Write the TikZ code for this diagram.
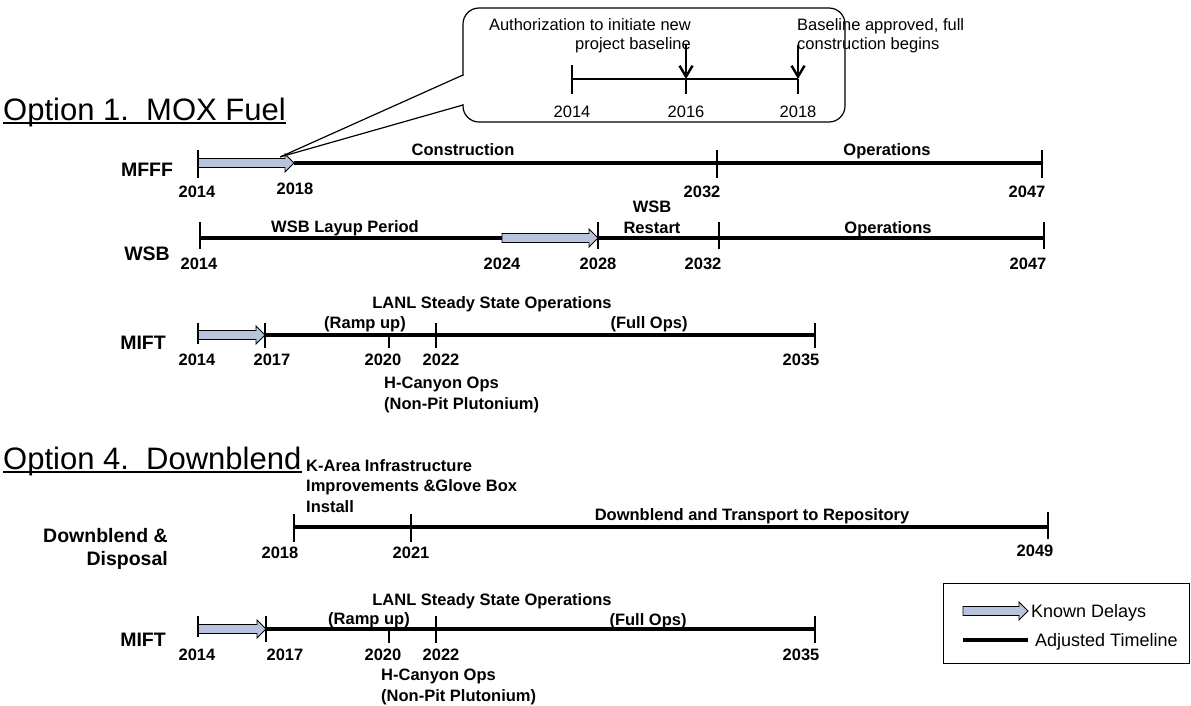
\documentclass[tikz,border=0pt]{standalone}
\usepackage{fontspec}
\setmainfont{Liberation Sans}
\usetikzlibrary{calc,arrows.meta}
\definecolor{delayblue}{RGB}{184,196,221}
\newcommand\delayarrow[2]{%
  \draw[delay] ($(#1)+(0,4.5)$) -- ($(#2)+(-9,4.5)$) -- ($(#2)+(-9,9)$) -- (#2)
    -- ($(#2)+(-9,-9)$) -- ($(#2)+(-9,-4.5)$) -- ($(#1)+(0,-4.5)$) -- cycle;}
\begin{document}
\begin{tikzpicture}[x=1pt,y=-1pt,
  lbl/.style={font=\bfseries\fontsize{16.5}{20}\selectfont, inner sep=0pt, text height=11.8pt, text depth=0pt},
  mlbl/.style={font=\bfseries\fontsize{16.5}{20.5}\selectfont, inner sep=0pt},
  rowname/.style={font=\bfseries\fontsize{19.5}{23}\selectfont, inner sep=0pt, text height=14pt, text depth=0pt},
  rowname2/.style={font=\bfseries\fontsize{19.5}{23}\selectfont, inner sep=0pt},
  reg/.style={font=\fontsize{16.5}{19}\selectfont, inner sep=0pt, text height=11.8pt, text depth=0pt},
  mreg/.style={font=\fontsize{16.5}{19}\selectfont, inner sep=0pt},
  legtext/.style={font=\fontsize{18}{21}\selectfont, inner sep=0pt, text height=12.9pt, text depth=0pt},
  title/.style={font=\fontsize{31}{37}\selectfont, inner sep=0pt},
  uline/.style={line width=1.8pt},
  tl/.style={line width=4.6pt},
  tick/.style={line width=1.3pt},
  delay/.style={draw=black, line width=0.9pt, fill=delayblue, line join=miter},
  thin/.style={line width=1.2pt},
  dnarrow/.style={line width=1.5pt, -{Straight Barb[length=11pt,width=13pt,line width=2.4pt]}}
]
\useasboundingbox (0,0) rectangle (1191,705);

% ---------- titles ----------
\node[title, anchor=base west] (opt1) at (3,120) {Option 1.\ \ MOX Fuel};
\draw[uline] ([yshift=-3pt]opt1.base west) -- ([yshift=-3pt]opt1.base east);
\node[title, anchor=base west] (opt4) at (3,469) {Option 4.\ \ Downblend};
\draw[uline] ([yshift=-3pt]opt4.base west) -- ([yshift=-3pt]opt4.base east);

% ---------- MFFF ----------
\coordinate (m14) at (198,163);
\coordinate (m18) at (294,163);
\coordinate (m32) at (717,163);
\coordinate (m47) at (1042,163);
\draw[tl] (m18) -- (m47);
\delayarrow{m14}{m18}
\draw[tick] (198,150) -- (198,178);
\draw[tick] (717,150) -- (717,178);
\draw[tick] (1042,150) -- (1042,178);
\node[rowname] (mfff) at (147,169) {MFFF};
\node[lbl] (mC) at (463,150) {Construction};
\node[lbl] (mO) at (887,150) {Operations};
\node[lbl] (my14) at (197,192) {2014};
\node[lbl] (my18) at (295,189) {2018};
\node[lbl] (my32) at (702,192) {2032};
\node[lbl] (my47) at (1027,192) {2047};

% ---------- callout ----------
\node[draw, thin, rounded corners=16pt, minimum width=382pt, minimum height=114pt, inner sep=0pt] (co) at (654,65) {};
\fill[white] (461,76) rectangle (465,104);
\coordinate (pa) at (463,75);
\coordinate (pb) at (463,105);
\coordinate (ptip) at (280,157);
\draw[thin, line join=miter] (pa) -- (ptip) -- (pb);
\coordinate (c14) at (572,79);
\coordinate (c16) at (686,79);
\coordinate (c18) at (798,79);
\draw[thin] (c14) -- (c18);
\draw[thin] (572,65) -- (572,94);
\draw[thin] (c16) -- (686,94);
\draw[thin] (c18) -- (798,94);
\coordinate (a16) at (686,45);
\coordinate (a18) at (798,45);
\draw[dnarrow] (a16) -- (c16);
\draw[dnarrow] (a18) -- (c18);
\node[mreg, anchor=north east, align=right] (auth) at (691,18) {Authorization to initiate new\\project baseline};
\node[mreg, anchor=north west, align=left] (base) at (797,18) {Baseline approved, full\\construction begins};
\node[reg] (cy14) at (572,112) {2014};
\node[reg] (cy16) at (686,112) {2016};
\node[reg] (cy18) at (798,112) {2018};

% ---------- WSB ----------
\coordinate (w14) at (200,238);
\coordinate (w24) at (502,238);
\coordinate (w28) at (598,238);
\coordinate (w32) at (719,238);
\coordinate (w47) at (1044,238);
\draw[tl] (w14) -- (w24);
\draw[tl] (w28) -- (w47);
\delayarrow{w24}{w28}
\draw[tick] (200,222) -- (200,249);
\draw[tick] (598,222) -- (598,249);
\draw[tick] (719,222) -- (719,249);
\draw[tick] (1044,222) -- (1044,249);
\node[rowname] (wsb) at (147,253) {WSB};
\node[lbl] (wL) at (345,227) {WSB Layup Period};
\node[mlbl, anchor=north, align=center] (wR) at (652,201) {WSB\\Restart};
\node[lbl] (wO) at (888,228) {Operations};
\node[lbl] (wy14) at (199,264) {2014};
\node[lbl] (wy24) at (502,264) {2024};
\node[lbl] (wy28) at (598,264) {2028};
\node[lbl] (wy32) at (703,264) {2032};
\node[lbl] (wy47) at (1028,264) {2047};

% ---------- MIFT (option 1) ----------
\coordinate (f14) at (198,335);
\coordinate (f17) at (265,335);
\coordinate (f20) at (389,335);
\coordinate (f22) at (436,335);
\coordinate (f35) at (815,335);
\draw[tl] (f17) -- (f35);
\delayarrow{f14}{f17}
\draw[tick] (198,323) -- (198,344);
\draw[tick] (265,323) -- (265,348);
\draw[tick] (f20) -- (389,348);
\draw[tick] (436,323) -- (436,348);
\draw[tick] (815,323) -- (815,348);
\node[rowname] (mift1) at (143,342) {MIFT};
\node[lbl] (fL) at (492,303) {LANL Steady State Operations};
\node[lbl] (fR) at (365,323) {(Ramp up)};
\node[lbl] (fF) at (649,323) {(Full Ops)};
\node[lbl] (fy14) at (197,360) {2014};
\node[lbl] (fy17) at (272,360) {2017};
\node[lbl] (fy20) at (383,360) {2020};
\node[lbl] (fy22) at (441,360) {2022};
\node[lbl] (fy35) at (801,360) {2035};
\node[mlbl, anchor=north west, align=left] (fH) at (384,377) {H-Canyon Ops\\(Non-Pit Plutonium)};

% ---------- Downblend ----------
\coordinate (d18) at (294,527);
\coordinate (d21) at (411,527);
\coordinate (d49) at (1048,527);
\draw[tl] (d18) -- (d49);
\draw[tick] (294,514) -- (294,542);
\draw[tick] (411,514) -- (411,542);
\draw[tick] (1048,512) -- (1048,539);
\node[rowname2, anchor=north east, align=right] (dd) at (168,528) {Downblend \&\\Disposal};
\node[mlbl, anchor=north west, align=left] (dK) at (306,459) {K-Area Infrastructure\\Improvements \&Glove Box\\Install};
\node[lbl] (dT) at (752,515) {Downblend and Transport to Repository};
\node[lbl] (dy18) at (280,553) {2018};
\node[lbl] (dy21) at (411,553) {2021};
\node[lbl] (dy49) at (1035,551) {2049};

% ---------- MIFT (option 4) ----------
\coordinate (g14) at (198,629);
\coordinate (g17) at (266,629);
\coordinate (g20) at (389,629);
\coordinate (g22) at (436,629);
\coordinate (g35) at (815,629);
\draw[tl] (g17) -- (g35);
\delayarrow{g14}{g17}
\draw[tick] (198,616) -- (198,637);
\draw[tick] (266,616) -- (266,642);
\draw[tick] (g20) -- (389,643);
\draw[tick] (436,616) -- (436,643);
\draw[tick] (815,616) -- (815,643);
\node[rowname] (mift2) at (143,639) {MIFT};
\node[lbl] (gL) at (492,600) {LANL Steady State Operations};
\node[lbl] (gR) at (369,619) {(Ramp up)};
\node[lbl] (gF) at (648,620) {(Full Ops)};
\node[lbl] (gy14) at (197,655) {2014};
\node[lbl] (gy17) at (285,655) {2017};
\node[lbl] (gy20) at (383,655) {2020};
\node[lbl] (gy22) at (441,655) {2022};
\node[lbl] (gy35) at (801,655) {2035};
\node[mlbl, anchor=north west, align=left] (gH) at (381,669) {H-Canyon Ops\\(Non-Pit Plutonium)};

% ---------- legend ----------
\node[draw, line width=1pt, minimum width=246pt, minimum height=80pt, inner sep=0pt] (leg) at (1066,623) {};
\coordinate (l1a) at (963,611);
\coordinate (l1b) at (1028,611);
\coordinate (l2a) at (963,640);
\coordinate (l2b) at (1028,640);
\delayarrow{l1a}{l1b}
\draw[tl] (l2a) -- (l2b);
\node[legtext, anchor=west] (lk) at (1031,611) {Known Delays};
\node[legtext, anchor=west] (la) at (1035,640) {Adjusted Timeline};
\end{tikzpicture}
\end{document}
